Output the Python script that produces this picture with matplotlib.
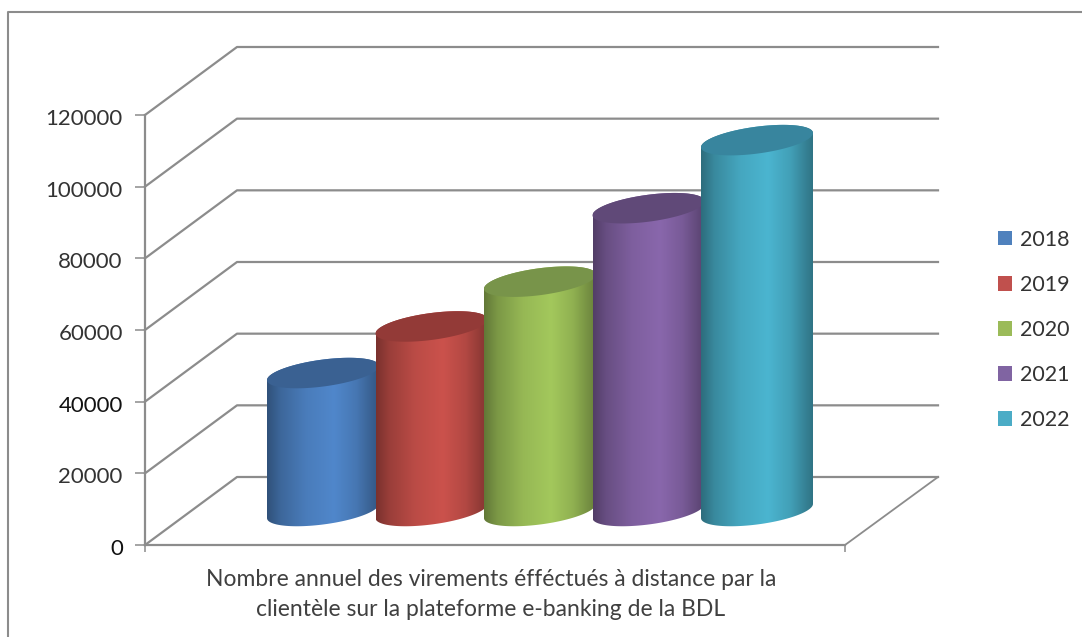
import numpy as np
import matplotlib
matplotlib.use("Agg")
import matplotlib.pyplot as plt
from matplotlib.lines import Line2D
from matplotlib.patches import Patch, PathPatch
from matplotlib.path import Path
from matplotlib.transforms import ScaledTranslation

plt.rcParams['font.family'] = ['Lato', 'DejaVu Sans']

years = ['2018', '2019', '2020', '2021', '2022']
virements = [38500, 51500, 64000, 84500, 103500]
y_ticks = [0, 20000, 40000, 60000, 80000, 100000, 120000]
body_colors = ['#5087cb', '#cb524c', '#a3c85c', '#8967ac', '#4bb5d0']
top_colors = ['#3a6192', '#933a37', '#78944a', '#604978', '#38859e']
legend_colors = ['#4f81bd', '#c0504d', '#9bbb59', '#8064a2', '#4bacc6']
x_title = "Nombre annuel des virements éfféctués à distance par la\nclientèle sur la plateforme e-banking de la BDL"

GRAY = '#8c8c8c'
W, H = 1082, 637
PX = 120000 / 430      # value units per pixel
DEPTH_X = 92
DEPTH_Y = 68 * PX

# shading across a cylinder, left edge to right edge
shade_pos = [0, 0.12, 0.35, 0.6, 0.8, 1]
shade_val = [0.6, 0.76, 0.92, 1.0, 0.88, 0.64]


def to_rgb_arr(c):
    return np.array(matplotlib.colors.to_rgb(c))


def ellipse_pts(cx, cy, a, t):
    # tilted ellipse, the right end sits higher than the left
    return cx + a * np.cos(t), cy + 0.127 * a * PX * np.cos(t) + 13.5 * PX * np.sin(t)


def cylinder(ax, cx, value, a, body, top, z):
    y0 = 34 * PX
    y1 = y0 + value
    lower = np.linspace(np.pi, 2 * np.pi, 60)
    upper = np.linspace(0, np.pi, 60)
    xb, yb = ellipse_pts(cx, y0, a, lower)
    xt, yt = ellipse_pts(cx, y1, a, upper)
    verts = np.column_stack([np.r_[xb, xt], np.r_[yb, yt]])
    outline = PathPatch(Path(verts), fc='none', ec='none', transform=ax.transData)
    ax.add_patch(outline)

    col = np.linspace(0, 1, 200)
    shade = np.interp(col, shade_pos, shade_val)
    img = (shade[:, None] * to_rgb_arr(body))[None, :, :]
    im = ax.imshow(img, extent=[cx - a, cx + a, y0 - 30 * PX, y1 + 30 * PX], aspect='auto',
                   origin='lower', zorder=z, clip_on=True, interpolation='bilinear')
    im.set_clip_path(outline)

    tt = np.linspace(0, 2 * np.pi, 120)
    xe, ye = ellipse_pts(cx, y1, a, tt)
    ax.fill(xe, ye, color=top, lw=0, zorder=z + 0.1, clip_on=False)


fig = plt.figure(figsize=(W / 100, H / 100), dpi=100)
ax = fig.add_axes([145 / W, 1 - 545 / H, 700 / W, 430 / H])
ax.set_xlim(0, 700)
ax.set_ylim(0, 120000)
ax.patch.set_alpha(0)

# back wall and left wall lines
for v in y_ticks:
    ax.plot([0, DEPTH_X, 793], [v, v + DEPTH_Y, v + DEPTH_Y], color=GRAY, lw=1.6, clip_on=False, zorder=1)
# right side of the floor
ax.plot([700, 793], [0, DEPTH_Y], color=GRAY, lw=1.3, clip_on=False, zorder=1)

for i, v in enumerate(virements):
    cylinder(ax, 178 + i * 108.5, v, 56, body_colors[i], top_colors[i], 2 + i)
ax.set_xlim(0, 700)
ax.set_ylim(0, 120000)

for s in ['top', 'right']:
    ax.spines[s].set_visible(False)
for s in ['left', 'bottom']:
    ax.spines[s].set_color(GRAY)
    ax.spines[s].set_linewidth(1.6)
ax.set_yticks(y_ticks)
ax.set_yticklabels([str(v) for v in y_ticks])
ax.set_xticks([0, 700])
ax.set_xticklabels(['', ''])
ax.tick_params(axis='y', length=7, width=1.1, color=GRAY, pad=9, labelsize=16, labelcolor='#333333')
ax.tick_params(axis='x', length=5, width=1.1, color=GRAY)
nudge = ScaledTranslation(0, -2 / 100, fig.dpi_scale_trans)
for lab, v in zip(ax.get_yticklabels(), y_ticks):
    lab.set_transform(lab.get_transform() + nudge)
    if v in (0, 40000):
        lab.set_color('#111111')

ax.set_xlabel(x_title, fontsize=16.5, color='#404040', linespacing=1.52, labelpad=9, x=0.494)

handles = [Patch(color=c, lw=0) for c in legend_colors]
fig.legend(handles, years, loc='center left', bbox_to_anchor=(979 / W, 1 - 330 / H), frameon=False,
           fontsize=15.5, handlelength=0.65, handleheight=0.68, handletextpad=0.34,
           labelspacing=1.17, labelcolor='#333333')

# outer chart border, only the left and top edges are in frame
fig.add_artist(Line2D([8 / W, 8 / W, 1], [0, 1 - 12 / H, 1 - 12 / H], color=GRAY, lw=1.5))

fig.savefig('out.png', dpi=100)
